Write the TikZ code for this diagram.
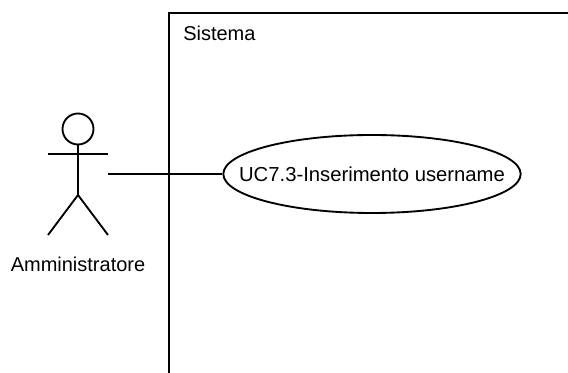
\documentclass[tikz,border=0pt]{standalone}
\usepackage{fontspec}
\setmainfont{Liberation Sans}
\usetikzlibrary{shapes.geometric}
\tikzset{
 px/.style={x=0.75pt,y=-0.75pt},
 stroke/.style={draw=black,line width=1.4pt},
 lbl/.style={font=\fontsize{15pt}{18pt}\selectfont,inner sep=0pt,text=black},
 usecase/.style={ellipse,stroke,fill=white,minimum width=223pt,minimum height=58.5pt,inner sep=0pt,font=\fontsize{15.2pt}{18pt}\selectfont}
}
\begin{document}
\begin{tikzpicture}[px]
\useasboundingbox (0,0) rectangle (568,373);
\path[fill=white] (0,0) rectangle (568,373);
\coordinate (sysTL) at (169,13);
\coordinate (sysTR) at (568,13);
\coordinate (sysBL) at (169,373);
\draw[stroke] (sysTR) -- (sysTL) -- (sysBL);
\node[lbl,anchor=west] (sys) at (183,33) {Sistema};
\draw[stroke] (78,129) circle (15.5);
\coordinate (neck) at (78,144);
\coordinate (hip) at (78,195);
\coordinate (armL) at (48,154);
\coordinate (armR) at (108,154);
\coordinate (footL) at (48,235);
\coordinate (footR) at (108,235);
\draw[stroke] (neck) -- (hip);
\draw[stroke] (armL) -- (armR);
\draw[stroke] (footL) -- (hip) -- (footR);
\node[lbl] (actor) at (78,264) {Amministratore};
\node[usecase] (uc) at (372,174) {\makebox[0pt]{UC7.3-Inserimento username}};
\coordinate (actorEnd) at (108,174);
\draw[stroke] (actorEnd) -- (uc);
\end{tikzpicture}
\end{document}
